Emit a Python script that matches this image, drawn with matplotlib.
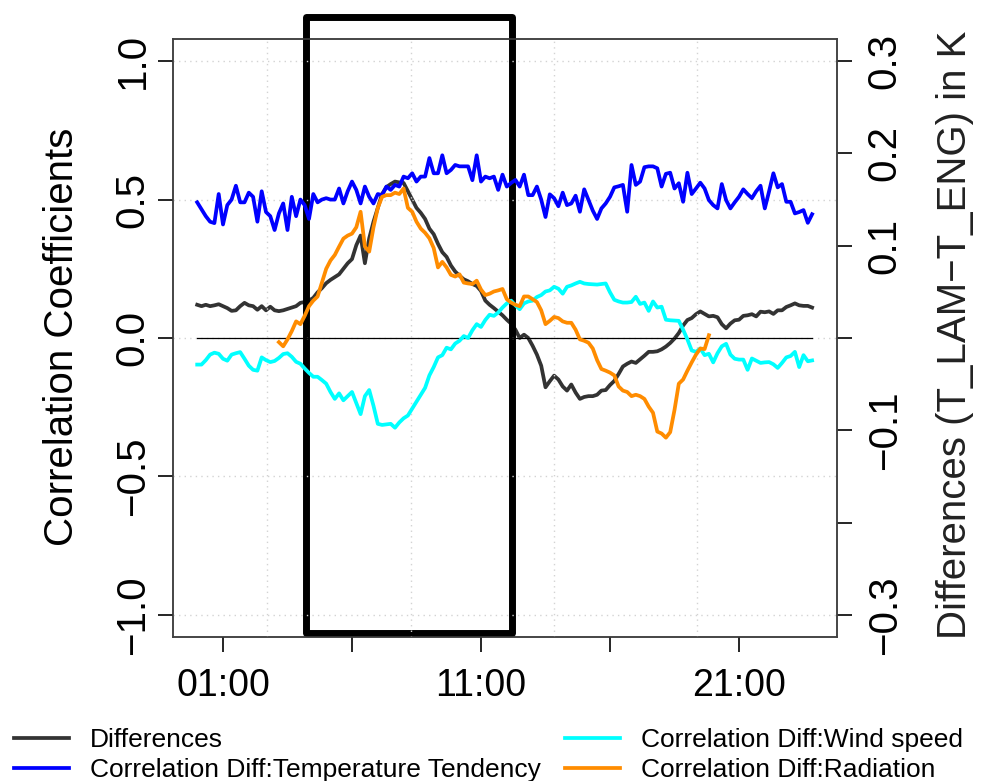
import numpy as np
import matplotlib
matplotlib.use("Agg")
import matplotlib.pyplot as plt
from matplotlib.patches import Rectangle
from matplotlib.transforms import blended_transform_factory

plt.rcParams['font.family'] = ['Liberation Sans']

# 10-minute steps over one day (hours)
times = np.arange(144) / 6.0

# differences T_LAM - T_ENG in K (right axis)
diff_K = [0.036, 0.0345, 0.036, 0.0345, 0.0354, 0.0366, 0.0345, 0.0324, 0.0294, 0.03,
          0.0345, 0.0381, 0.0354, 0.0345, 0.0306, 0.0345, 0.03, 0.0339, 0.03, 0.0291,
          0.03, 0.0315, 0.033, 0.0345, 0.0381, 0.039, 0.0405, 0.0435, 0.0495, 0.054,
          0.0594, 0.063, 0.066, 0.069, 0.075, 0.081, 0.0855, 0.1005, 0.111, 0.081,
          0.108, 0.126, 0.141, 0.156, 0.1635, 0.1668, 0.1695, 0.1686, 0.168, 0.159,
          0.15, 0.141, 0.1356, 0.129, 0.1185, 0.1125, 0.102, 0.093, 0.0879, 0.0786,
          0.072, 0.0675, 0.0636, 0.0615, 0.0585, 0.0564, 0.051, 0.0405, 0.036, 0.0324,
          0.0285, 0.0246, 0.0198, 0.0156, 0.009, 0.0, 0.0036, 0.0, -0.0084, -0.018,
          -0.03, -0.0534, -0.0468, -0.0408, -0.045, -0.0525, -0.057, -0.0504, -0.0591, -0.066,
          -0.0639, -0.063, -0.063, -0.0615, -0.057, -0.0564, -0.051, -0.0465, -0.039, -0.0309,
          -0.0279, -0.0255, -0.027, -0.0231, -0.0192, -0.015, -0.015, -0.0144, -0.0123, -0.0093,
          -0.0054, -0.0006, 0.0054, 0.0135, 0.0195, 0.0216, 0.0258, 0.0288, 0.0261, 0.0234,
          0.024, 0.0225, 0.015, 0.0105, 0.0156, 0.0192, 0.0198, 0.024, 0.0246, 0.0258,
          0.0234, 0.0285, 0.0279, 0.0288, 0.0261, 0.03, 0.03, 0.0336, 0.0354, 0.0375,
          0.0354, 0.0348, 0.0348, 0.033]

# correlation with temperature tendency
corr_tend = [0.49, 0.465, 0.44, 0.42, 0.415, 0.52, 0.41, 0.48, 0.50, 0.55,
             0.49, 0.49, 0.525, 0.51, 0.42, 0.53, 0.455, 0.44, 0.39, 0.45,
             0.486, 0.39, 0.51, 0.44, 0.50, 0.48, 0.43, 0.52, 0.49, 0.50,
             0.505, 0.50, 0.50, 0.54, 0.486, 0.53, 0.565, 0.535, 0.486, 0.547,
             0.51, 0.486, 0.52, 0.516, 0.547, 0.535, 0.553, 0.547, 0.583, 0.577,
             0.595, 0.565, 0.583, 0.583, 0.65, 0.595, 0.595, 0.66, 0.595, 0.607,
             0.625, 0.62, 0.62, 0.62, 0.57, 0.66, 0.565, 0.583, 0.577, 0.583,
             0.535, 0.59, 0.547, 0.56, 0.571, 0.547, 0.59, 0.516, 0.516, 0.547,
             0.50, 0.437, 0.519, 0.505, 0.476, 0.525, 0.48, 0.486, 0.514, 0.456,
             0.537, 0.498, 0.46, 0.43, 0.468, 0.486, 0.51, 0.544, 0.548, 0.553,
             0.456, 0.625, 0.553, 0.565, 0.617, 0.62, 0.62, 0.613, 0.547, 0.593,
             0.597, 0.54, 0.559, 0.492, 0.597, 0.52, 0.54, 0.561, 0.54, 0.498,
             0.48, 0.468, 0.556, 0.498, 0.468, 0.49, 0.51, 0.537, 0.52, 0.505,
             0.53, 0.55, 0.468, 0.53, 0.595, 0.544, 0.556, 0.492, 0.492, 0.45,
             0.455, 0.462, 0.416, 0.447]

# correlation with wind speed
corr_wind = [-0.096, -0.096, -0.08, -0.06, -0.053, -0.057, -0.075, -0.082, -0.06, -0.055,
             -0.051, -0.075, -0.1, -0.115, -0.118, -0.07, -0.08, -0.087, -0.083, -0.072,
             -0.058, -0.055, -0.068, -0.086, -0.093, -0.11, -0.126, -0.14, -0.14, -0.152,
             -0.165, -0.195, -0.22, -0.2, -0.225, -0.21, -0.195, -0.235, -0.275, -0.21,
             -0.188, -0.245, -0.31, -0.314, -0.312, -0.31, -0.324, -0.305, -0.29, -0.28,
             -0.255, -0.23, -0.205, -0.18, -0.135, -0.105, -0.07, -0.062, -0.035, -0.041,
             -0.02, -0.01, 0.007, 0.0, 0.028, 0.05, 0.04, 0.065, 0.084, 0.08,
             0.092, 0.11, 0.125, 0.135, 0.118, 0.104, 0.125, 0.132, 0.135, 0.148,
             0.155, 0.168, 0.172, 0.185, 0.178, 0.16, 0.185, 0.19, 0.197, 0.203,
             0.197, 0.195, 0.194, 0.193, 0.195, 0.197, 0.165, 0.138, 0.132, 0.128,
             0.128, 0.13, 0.149, 0.123, 0.128, 0.098, 0.132, 0.11, 0.113, 0.066,
             0.064, 0.063, 0.062, 0.03, -0.005, -0.045, -0.05, -0.038, -0.062, -0.057,
             -0.088, -0.055, -0.03, -0.021, -0.06, -0.075, -0.078, -0.078, -0.115, -0.074,
             -0.082, -0.09, -0.088, -0.087, -0.095, -0.108, -0.09, -0.07, -0.065, -0.05,
             -0.105, -0.062, -0.084, -0.081]

# correlation with radiation (only daytime steps 19..119)
rad_start = 19
corr_rad = [-0.015, -0.03, -0.005, 0.025, 0.06, 0.05, 0.08, 0.115, 0.135, 0.15,
            0.2, 0.25, 0.28, 0.3, 0.33, 0.359, 0.37, 0.377, 0.4, 0.456,
            0.33, 0.312, 0.40, 0.47, 0.51, 0.516, 0.516, 0.525, 0.52, 0.54,
            0.47, 0.456, 0.42, 0.395, 0.38, 0.36, 0.325, 0.255, 0.275, 0.255,
            0.228, 0.222, 0.23, 0.2, 0.197, 0.195, 0.207, 0.175, 0.155, 0.16,
            0.168, 0.172, 0.177, 0.14, 0.128, 0.12, 0.115, 0.15, 0.15, 0.14,
            0.13, 0.1, 0.05, 0.062, 0.076, 0.072, 0.06, 0.055, 0.055, 0.03,
            -0.005, -0.01, -0.017, -0.038, -0.08, -0.112, -0.118, -0.125, -0.135, -0.175,
            -0.19, -0.195, -0.21, -0.205, -0.21, -0.22, -0.248, -0.27, -0.338, -0.345,
            -0.36, -0.34, -0.26, -0.165, -0.15, -0.118, -0.088, -0.06, -0.038, -0.04,
            0.01]
rad_times = times[rad_start:rad_start + len(corr_rad)]

xtick_hours = [1, 6, 11, 16, 21]
xtick_labels = ['01:00', '', '11:00', '', '21:00']
grid_hours = [2.71, 8.27, 13.82, 19.38]
left_ticks = [-1.0, -0.5, 0.0, 0.5, 1.0]
left_labels = ['\u22121.0', '\u22120.5', '0.0', '0.5', '1.0']
right_ticks = [-0.3, -0.2, -0.1, 0.0, 0.1, 0.2, 0.3]
right_labels = ['\u22120.3', '', '\u22120.1', '', '0.1', '0.2', '0.3']

W, H = 985, 781
fig = plt.figure(figsize=(W / 100, H / 100), dpi=100)
ax = fig.add_axes([172.6 / W, 1 - 637 / H, (836.7 - 172.6) / W, (637 - 39) / H])
ax2 = ax.twinx()

span = times[-1] - times[0]
ax.set_xlim(times[0] - 0.04 * span, times[-1] + 0.04 * span)
ax.set_ylim(-1.08, 1.08)
ax2.set_ylim(-1.08 * 0.3, 1.08 * 0.3)

# dotted grid
dots = (0, (1, 3))
for v in left_ticks:
    ax.axhline(v, color='#d3d3d3', lw=1, ls=dots, zorder=0)
for h in grid_hours:
    ax.axvline(h, color='#d3d3d3', lw=1, ls=dots, zorder=0)

lw = 2.7
l_diff, = ax2.plot(times, diff_K, color='#333333', lw=lw)
ax.plot(times, np.zeros_like(times), color='black', lw=0.9)
l_tend, = ax.plot(times, corr_tend, color='#0000ff', lw=lw)
l_wind, = ax.plot(times, corr_wind, color='#00ffff', lw=lw)
l_rad, = ax.plot(rad_times, corr_rad, color='#ff8c00', lw=lw)

# correlation lines above the differences curve
ax.set_zorder(ax2.get_zorder() + 1)
ax.patch.set_visible(False)

for a in (ax, ax2):
    for s in a.spines.values():
        s.set_color('#404040')
        s.set_linewidth(1.1)

ax.set_xticks(xtick_hours)
ax.set_xticklabels(xtick_labels, fontsize=27)
ax.tick_params(axis='x', length=11, width=1.2, pad=11)

ax.set_yticks(left_ticks)
ax.set_yticklabels(left_labels)
ax.tick_params(axis='y', length=11, width=1.2, pad=4)
for lab in ax.get_yticklabels():
    lab.set_rotation(90)
    lab.set_va('center')
    lab.set_fontsize(29)

ax2.set_yticks(right_ticks)
ax2.set_yticklabels(right_labels)
ax2.tick_params(axis='y', length=11, width=1.2, pad=10)
for lab in ax2.get_yticklabels():
    lab.set_rotation(90)
    lab.set_va('center')
    lab.set_fontsize(29)

fig.text(62 / W, 1 - 337 / H, 'Correlation Coefficients', rotation=90,
         ha='center', va='center', fontsize=29)
fig.text(955 / W, 1 - 335 / H, 'Differences (T_LAM\u2212T_ENG) in K', rotation=90,
         ha='center', va='center', fontsize=29, color='#222222')

# highlighted morning window
tr = blended_transform_factory(ax.transData, fig.transFigure)
fig.add_artist(Rectangle((4.2, 1 - 633 / H), 12.22 - 4.2, (633 - 16.5) / H,
                         transform=tr, fill=False, ec='black', lw=5,
                         joinstyle='round', clip_on=False))

fig.legend([l_diff, l_tend, l_wind, l_rad],
           ['Differences', 'Correlation Diff:Temperature Tendency',
            'Correlation Diff:Wind speed', 'Correlation Diff:Radiation'],
           ncol=2, loc='upper left', bbox_to_anchor=(0.014, 0.068),
           frameon=False, fontsize=19, handlelength=2.1, handletextpad=0.8,
           columnspacing=0.9, borderaxespad=0, borderpad=0, labelspacing=0.25)

fig.savefig('out.png', dpi=100)
